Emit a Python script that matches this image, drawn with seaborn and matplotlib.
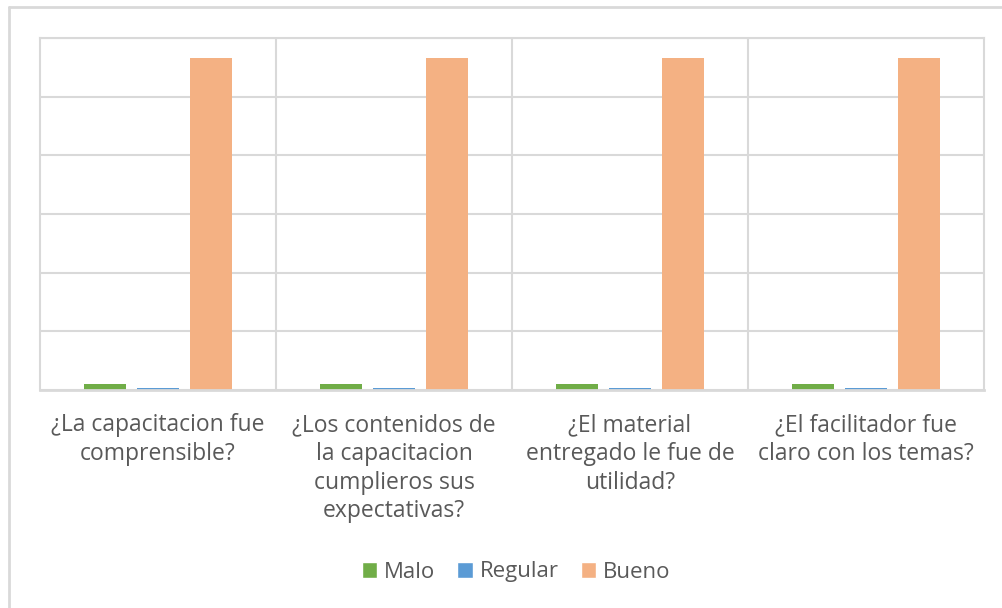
import numpy as np
import pandas as pd
import matplotlib
matplotlib.use("Agg")
import matplotlib.pyplot as plt
import seaborn as sns
from matplotlib.patches import Patch
from matplotlib.lines import Line2D

preguntas = ["¿La capacitacion fue\ncomprensible?",
             "¿Los contenidos de\nla capacitacion\ncumplieros sus\nexpectativas?",
             "¿El material\nentregado le fue de\nutilidad?",
             "¿El facilitador fue\nclaro con los temas?"]
series = ["Malo", "Regular", "Bueno"]
malo = [1, 1, 1, 1]
regular = [0.3, 0.3, 0.3, 0.3]
bueno = [56.6, 56.6, 56.6, 56.6]
colores = ["#70ad47", "#5b9bd5", "#f4b183"]

df = pd.DataFrame({"pregunta": preguntas * 3,
                   "serie": ["Malo"] * 4 + ["Regular"] * 4 + ["Bueno"] * 4,
                   "valor": malo + regular + bueno})

sns.set_style("white")
plt.rcParams["font.family"] = ["Open Sans", "DejaVu Sans"]

fig = plt.figure(figsize=(10.03, 6.08), dpi=100)
ax = fig.add_axes([40/1003, 1-390/608, (984-40)/1003, (390-38)/608])

sns.barplot(data=df, x="pregunta", y="valor", hue="serie", hue_order=series,
            palette=colores, width=0.674, gap=0.225, ax=ax, legend=False,
            saturation=1, edgecolor="none")

ax.set_ylim(0, 60)
ax.set_xlim(-0.5, 3.5)
ax.set_yticks(np.arange(0, 61, 10))
ax.set_yticklabels([])
ax.tick_params(left=False, bottom=False)
ax.grid(axis="y", color="#d9d9d9", linewidth=1.5)
for x in np.arange(0.5, 3.5, 1):
    ax.axvline(x, color="#d9d9d9", linewidth=1.5, zorder=0)
ax.set_axisbelow(True)
for s in ["left", "right", "top"]:
    ax.spines[s].set_color("#d9d9d9")
    ax.spines[s].set_linewidth(1.5)
ax.spines["bottom"].set_color("#d9d9d9")
ax.spines["bottom"].set_linewidth(2)
ax.set_xlabel("")
ax.set_ylabel("")
ax.set_xticks(range(4))
ax.set_xticklabels(preguntas, fontsize=16.5, color="#595959", linespacing=1.27)
ax.tick_params(axis="x", pad=13)

# marco del grafico
fig.add_artist(Line2D([9/1003, 9/1003], [0, 1-7/608], color="#d9d9d9", linewidth=2, transform=fig.transFigure))
fig.add_artist(Line2D([9/1003, 1], [1-7/608, 1-7/608], color="#d9d9d9", linewidth=2, transform=fig.transFigure))

handles = [Patch(facecolor=c, label=s) for s, c in zip(series, colores)]
fig.legend(handles=handles, loc="center", bbox_to_anchor=(516/1003, 1-572/608), ncol=3,
           frameon=False, fontsize=16, labelcolor="#595959", handlelength=0.7, handleheight=0.7,
           handletextpad=0.3, columnspacing=1.0)

fig.savefig("out.png", dpi=100)
